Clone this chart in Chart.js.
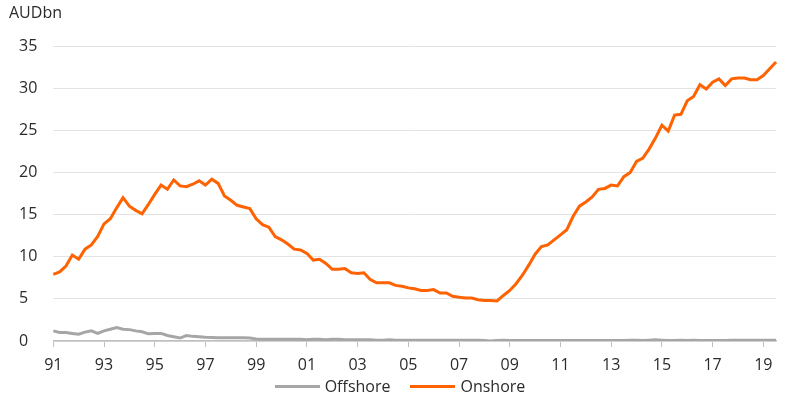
<!doctype html>
<html lang="en">
  <head>
    <meta charset="UTF-8" />
    <title>AUD bonds: offshore vs onshore</title>
    <script src="https://cdn.jsdelivr.net/npm/chart.js"></script>
    <style>
      html,
      body {
        margin: 0;
        padding: 0;
        background: #fff;
      }
      #wrap {
        position: relative;
        width: 800px;
        height: 412px;
      }
      #legend {
        position: absolute;
        left: 0;
        top: 376px;
        width: 800px;
        height: 20px;
        display: flex;
        justify-content: center;
        align-items: center;
        font-family: 'Open Sans', 'DejaVu Sans', sans-serif;
        font-size: 16px;
        line-height: 20px;
        color: #2b2b2b;
      }
      .item {
        display: flex;
        align-items: center;
        margin: 0 10px;
      }
      .swatch {
        width: 45px;
        height: 3px;
        margin-right: 5px;
      }
    </style>
  </head>
  <body>
    <div id="wrap">
      <canvas id="chart" width="800" height="412"></canvas>
      <div id="legend"></div>
    </div>

    <script>
      // quarterly, 1991Q1 to 2019Q3
      const firstYear = 1991;
      const lastYear = 2019;
      const lastQuarter = 3;

      const tickLabels = ['91', '93', '95', '97', '99', '01', '03', '05', '07', '09', '11', '13', '15', '17', '19'];

      const onshore = [
        7.9, 8.2, 8.9, 10.2,
        9.7, 10.9, 11.4, 12.4,
        13.9, 14.5, 15.8, 17.0,
        16.0, 15.5, 15.1, 16.2,
        17.4, 18.5, 18.0, 19.1,
        18.4, 18.3, 18.6, 19.0,
        18.5, 19.2, 18.7, 17.2,
        16.7, 16.1, 15.9, 15.7,
        14.5, 13.8, 13.5, 12.4,
        12.0, 11.5, 10.9, 10.8,
        10.4, 9.6, 9.7, 9.2,
        8.5, 8.5, 8.6, 8.1,
        8.0, 8.1, 7.3, 6.9,
        6.9, 6.9, 6.6, 6.5,
        6.3, 6.2, 6.0, 6.0,
        6.1, 5.7, 5.7, 5.3,
        5.2, 5.1, 5.1, 4.9,
        4.8, 4.8, 4.75, 5.4,
        6.0, 6.8, 7.8, 9.0,
        10.3, 11.2, 11.4, 12.0,
        12.6, 13.2, 14.8, 16.0,
        16.5, 17.1, 18.0, 18.1,
        18.5, 18.4, 19.5, 20.0,
        21.3, 21.7, 22.8, 24.1,
        25.6, 24.9, 26.8, 26.9,
        28.5, 29.0, 30.4, 29.9,
        30.7, 31.1, 30.3, 31.1,
        31.2, 31.2, 31.0, 31.0,
        31.5, 32.3, 33.1
      ];

      const offshore = [
        1.2, 1.0, 1.0, 0.9,
        0.8, 1.05, 1.2, 0.9,
        1.2, 1.4, 1.6, 1.4,
        1.35, 1.2, 1.1, 0.85,
        0.9, 0.9, 0.65, 0.5,
        0.35, 0.65, 0.55, 0.5,
        0.45, 0.42, 0.4, 0.4,
        0.4, 0.4, 0.38, 0.35,
        0.25, 0.2, 0.2, 0.2,
        0.2, 0.2, 0.2, 0.2,
        0.15, 0.2, 0.2, 0.15,
        0.2, 0.2, 0.15, 0.15,
        0.15, 0.15, 0.15, 0.1,
        0.1, 0.15, 0.1, 0.1,
        0.1, 0.1, 0.1, 0.1,
        0.1, 0.1, 0.1, 0.1,
        0.1, 0.1, 0.08, 0.08,
        0.05, 0.0, 0.05, 0.1,
        0.05, 0.05, 0.05, 0.05,
        0.05, 0.05, 0.05, 0.05,
        0.05, 0.05, 0.05, 0.05,
        0.05, 0.05, 0.05, 0.05,
        0.05, 0.05, 0.05, 0.1,
        0.1, 0.05, 0.1, 0.15,
        0.1, 0.05, 0.05, 0.1,
        0.05, 0.1, 0.05, 0.05,
        0.05, 0.05, 0.05, 0.1,
        0.1, 0.1, 0.1, 0.1,
        0.1, 0.1, 0.1
      ];

      // categories: one per quarter, e.g. "91Q1"
      const quarters = [];
      for (let y = firstYear; y <= lastYear; y++) {
        const maxQ = y === lastYear ? lastQuarter : 4;
        for (let q = 1; q <= maxQ; q++) {
          quarters.push(String(y).slice(2) + 'Q' + q);
        }
      }

      const FONT = "'Open Sans', 'DejaVu Sans', sans-serif";
      const TEXT = '#2b2b2b';
      const ORANGE = '#FF6200';
      const GREY = '#A6A6A6';

      // unit label top-left
      const unitLabel = {
        id: 'unitLabel',
        afterDraw(chart) {
          const ctx = chart.ctx;
          ctx.save();
          ctx.font = '16px ' + FONT;
          ctx.fillStyle = TEXT;
          ctx.textBaseline = 'middle';
          ctx.textAlign = 'left';
          ctx.fillText('AUDbn', 9, 13);
          ctx.restore();
        },
      };

      // legend as html below the axis
      const htmlLegend = {
        id: 'htmlLegend',
        afterUpdate(chart) {
          const box = document.getElementById('legend');
          box.innerHTML = '';
          const items = chart.options.plugins.legend.labels.generateLabels(chart);
          items.forEach((item) => {
            const el = document.createElement('div');
            el.className = 'item';
            const sw = document.createElement('span');
            sw.className = 'swatch';
            sw.style.background = item.strokeStyle;
            const txt = document.createElement('span');
            txt.textContent = item.text;
            el.appendChild(sw);
            el.appendChild(txt);
            box.appendChild(el);
          });
        },
      };

      new Chart(document.getElementById('chart'), {
        type: 'line',
        data: {
          labels: quarters,
          datasets: [
            {
              label: 'Offshore',
              data: offshore,
              borderColor: GREY,
              backgroundColor: GREY,
              borderWidth: 3,
              pointRadius: 0,
              tension: 0,
            },
            {
              label: 'Onshore',
              data: onshore,
              borderColor: ORANGE,
              backgroundColor: ORANGE,
              borderWidth: 3,
              pointRadius: 0,
              tension: 0,
            },
          ],
        },
        options: {
          responsive: false,
          animation: false,
          layout: {
            padding: { left: 19, right: 24, top: 46, bottom: 29 },
          },
          plugins: {
            legend: { display: false },
            tooltip: { enabled: false },
          },
          scales: {
            x: {
              type: 'category',
              offset: false,
              grid: {
                display: true,
                drawOnChartArea: false,
                drawTicks: true,
                tickLength: 6,
                color: '#BFBFBF',
              },
              border: { display: true, color: '#BFBFBF', width: 1.5 },
              ticks: {
                autoSkip: false,
                maxRotation: 0,
                padding: 10,
                color: TEXT,
                font: { family: FONT, size: 16, lineHeight: 1 },
                callback: function (value) {
                  const lab = this.getLabelForValue(value);
                  const yy = lab.slice(0, 2);
                  if (lab.endsWith('Q1') && tickLabels.includes(yy)) return yy;
                  return null;
                },
              },
            },
            y: {
              min: 0,
              max: 35,
              afterFit(scale) {
                scale.width = 34.3;
              },
              grid: {
                color: '#E3E3E3',
                drawTicks: false,
                lineWidth: 1,
              },
              border: { display: false },
              ticks: {
                stepSize: 5,
                crossAlign: 'far',
                color: TEXT,
                font: { family: FONT, size: 16 },
              },
            },
          },
        },
        plugins: [unitLabel, htmlLegend],
      });
    </script>
  </body>
</html>
